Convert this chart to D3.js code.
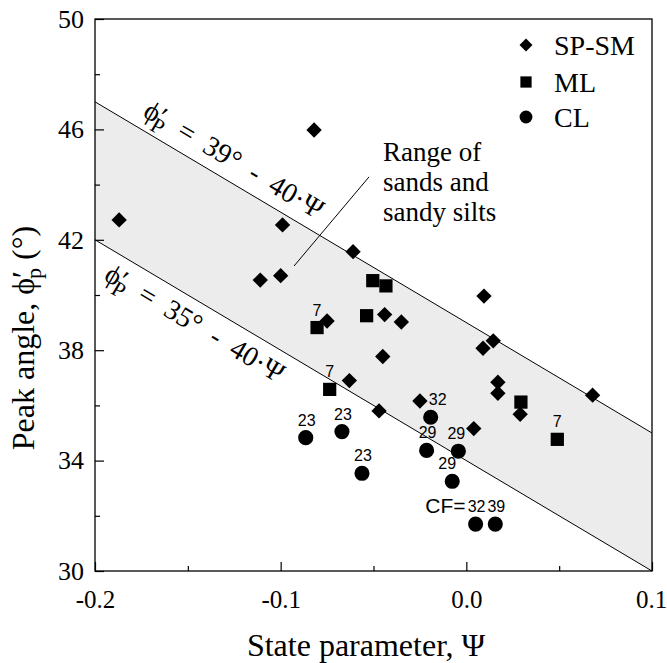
<!DOCTYPE html>
<html>
<head>
<meta charset="utf-8">
<script src="https://cdn.jsdelivr.net/npm/d3@7"></script>
<style>
  body { margin: 0; background: #fff; }
  svg { display: block; }
</style>
</head>
<body>
<div id="chart"></div>
<script>
// SP-SM (diamonds)
const spsmPsi = [-0.187, -0.082, -0.099, -0.061, -0.111, -0.100, -0.075, -0.044, -0.035, -0.045, -0.063,
                 -0.047, 0.0095, 0.0145, 0.009, 0.017, 0.017, 0.029, 0.068, -0.025, 0.004];
const spsmPhi = [42.72, 45.98, 42.54, 41.57, 40.54, 40.70, 39.06, 39.29, 39.02, 37.77, 36.90,
                 35.80, 39.96, 38.34, 38.07, 36.84, 36.44, 35.68, 36.37, 36.16, 35.16];

// ML (squares) with clay fraction labels
const mlPsi = [-0.0504, -0.0433, -0.0804, -0.0537, -0.0736, 0.0294, 0.049];
const mlPhi = [40.52, 40.33, 38.82, 39.25, 36.58, 36.12, 34.77];
const mlCF  = ["", "", "7", "", "7", "", "7"];

// CL (circles) with clay fraction labels
const clPsi = [-0.0865, -0.067, -0.0562, -0.0192, -0.0214, -0.0043, -0.0076, 0.005, 0.0156];
const clPhi = [34.83, 35.05, 33.54, 35.57, 34.37, 34.34, 33.25, 31.70, 31.70];
const clCF  = ["23", "23", "23", "32", "29", "29", "29", "32", "39"];
const clLabelDx = [1, 1, 1, 7, 1, -2, -5, 1, 1];

// range lines (upper and lower bound of sands)
const rangePsi = [-0.2, 0.1];
const upperPhi = [47, 35];
const lowerPhi = [42, 30];

const xMajor = [-0.2, -0.1, 0.0, 0.1];
const xMinor = [-0.15, -0.05, 0.05];
const yMajor = [30, 34, 38, 42, 46, 50];
const yMinor = [32, 36, 40, 44, 48];

const SERIF = "'Liberation Serif', 'Times New Roman', serif";
const SANS = "'Liberation Sans', Arial, sans-serif";

const W = 667, H = 663;
const margin = { top: 19, right: 15, bottom: 92, left: 95 };
const width = W - margin.left - margin.right;
const height = H - margin.top - margin.bottom;

const svg = d3.select("#chart").append("svg")
  .attr("width", W).attr("height", H);

const g = svg.append("g")
  .attr("transform", `translate(${margin.left},${margin.top})`);

const x = d3.scaleLinear().domain([-0.2, 0.1]).range([0, width]);
const y = d3.scaleLinear().domain([30, 50]).range([height, 0]);

// shaded band
const lineGen = d3.line().x(d => x(d[0])).y(d => y(d[1]));
const band = [
  [rangePsi[0], upperPhi[0]], [rangePsi[1], upperPhi[1]],
  [rangePsi[1], lowerPhi[1]], [rangePsi[0], lowerPhi[0]]
];
g.append("path")
  .attr("d", lineGen(band) + "Z")
  .attr("fill", "#ececec");

[upperPhi, lowerPhi].forEach(ph => {
  g.append("path")
    .attr("d", lineGen(rangePsi.map((p, i) => [p, ph[i]])))
    .attr("fill", "none")
    .attr("stroke", "#000")
    .attr("stroke-width", 1);
});

// axes, ticks inward
const yAxis = g.append("g")
  .call(d3.axisLeft(y).tickValues(yMajor).tickSize(-9).tickPadding(11).tickFormat(d3.format("d")));
g.append("g").call(d3.axisLeft(y).tickValues(yMinor).tickSize(-5).tickFormat(""));
const xAxis = g.append("g")
  .attr("transform", `translate(0,${height})`)
  .call(d3.axisBottom(x).tickValues(xMajor).tickSize(-9).tickFormat(d => d3.format(".1f")(d).replace("−", "-")));
g.append("g").attr("transform", `translate(0,${height})`)
  .call(d3.axisBottom(x).tickValues(xMinor).tickSize(-5).tickFormat(""));

g.selectAll(".domain").remove();
g.selectAll(".tick line").attr("stroke", "#000").attr("stroke-width", 1.2);
yAxis.selectAll("text").attr("font-size", 26).attr("fill", "#000")
  .attr("font-family", SERIF);
xAxis.selectAll("text").attr("font-size", 25).attr("fill", "#000")
  .attr("font-family", SERIF)
  .attr("dy", null).attr("y", 37)
  .attr("dx", d => d === 0.1 ? -1 : 0);

// frame
g.append("rect")
  .attr("width", width).attr("height", height)
  .attr("fill", "none").attr("stroke", "#000").attr("stroke-width", 1.3);

// equation labels along the lines
const angle = Math.atan2(y(upperPhi[1]) - y(upperPhi[0]), x(rangePsi[1]) - x(rangePsi[0])) * 180 / Math.PI;

function eqLabel(psi, phiLine, off, value) {
  const t = g.append("text")
    .attr("font-family", SERIF)
    .attr("font-size", 28)
    .attr("text-anchor", "middle")
    .attr("transform", `translate(${x(psi)},${y(phiLine(psi))}) rotate(${angle})`)
    .attr("y", off)
    .style("white-space", "pre");
  t.append("tspan").text("ϕ′");
  t.append("tspan").attr("font-size", 22).attr("dy", 8).attr("dx", -8).text("P");
  t.append("tspan").attr("dy", -8).text(`  =  ${value}°  -  40·Ψ`);
}
eqLabel(-0.131, p => 39 - 40 * p, -12, 39);
eqLabel(-0.1405, p => 34 - 40 * p, 30, 35);

// leader line and range text
const leader = [[-0.0524, 44.28], [-0.0928, 41.05]];
g.append("path").attr("d", lineGen(leader))
  .attr("stroke", "#000").attr("stroke-width", 1).attr("fill", "none");

const rangeLines = ["Range of", "sands and", "sandy silts"];
const rangeLineY = [44.86, 43.77, 42.68];
g.selectAll(".rangeText").data(rangeLines).join("text")
  .attr("font-family", SERIF)
  .attr("font-size", 27)
  .attr("x", x(-0.0449))
  .attr("y", (d, i) => y(rangeLineY[i]))
  .text(d => d);

// markers
const diamond = d3.symbol().type(d3.symbolSquare).size(118)();
const square = d3.symbol().type(d3.symbolSquare).size(175)();
const circle = d3.symbol().type(d3.symbolCircle).size(180)();

g.selectAll(".spsm").data(spsmPsi).join("path")
  .attr("d", diamond)
  .attr("transform", (d, i) => `translate(${x(d)},${y(spsmPhi[i])}) rotate(45)`)
  .attr("fill", "#000");

g.selectAll(".ml").data(mlPsi).join("path")
  .attr("d", square)
  .attr("transform", (d, i) => `translate(${x(d)},${y(mlPhi[i])})`)
  .attr("fill", "#000");

g.selectAll(".cl").data(clPsi).join("path")
  .attr("d", circle)
  .attr("transform", (d, i) => `translate(${x(d)},${y(clPhi[i])})`)
  .attr("fill", "#000");

// CF labels
g.selectAll(".mlLab").data(mlPsi).join("text")
  .attr("font-family", SANS)
  .attr("font-size", 16)
  .attr("text-anchor", "middle")
  .attr("x", d => x(d))
  .attr("y", (d, i) => y(mlPhi[i]) - 12)
  .text((d, i) => mlCF[i]);

g.selectAll(".clLab").data(clPsi).join("text")
  .attr("font-family", SANS)
  .attr("font-size", 16)
  .attr("text-anchor", "middle")
  .attr("x", (d, i) => x(d) + clLabelDx[i])
  .attr("y", (d, i) => y(clPhi[i]) - 12)
  .text((d, i) => clCF[i]);

g.append("text")
  .attr("font-family", SANS)
  .attr("font-size", 21)
  .attr("text-anchor", "end")
  .attr("x", x(clPsi[7]) - 10)
  .attr("y", y(clPhi[7]) - 11)
  .text("CF=");

// legend
const legendNames = ["SP-SM", "ML", "CL"];
const legendShapes = [diamond, square, circle];
const legendRot = [45, 0, 0];
const legendY = [45, 82, 117];
legendNames.forEach((name, i) => {
  svg.append("path")
    .attr("d", legendShapes[i])
    .attr("transform", `translate(526,${legendY[i]}) rotate(${legendRot[i]}) scale(0.85)`)
    .attr("fill", "#000");
  svg.append("text")
    .attr("font-family", SERIF)
    .attr("font-size", 28)
    .attr("x", 554)
    .attr("y", legendY[i] + 10)
    .text(name);
});

// axis titles
svg.append("text")
  .attr("font-family", SERIF)
  .attr("font-size", 32)
  .attr("text-anchor", "middle")
  .attr("x", 366)
  .attr("y", 656)
  .text("State parameter, Ψ");

const yt = svg.append("text")
  .attr("font-family", SERIF)
  .attr("font-size", 32)
  .attr("text-anchor", "middle")
  .attr("transform", "translate(34,338) rotate(-90)");
yt.append("tspan").text("Peak angle, ϕ′");
yt.append("tspan").attr("font-size", 22).attr("dy", 7).attr("dx", -8).text("p");
yt.append("tspan").attr("dy", -7).text(" (°)");
</script>
</body>
</html>
